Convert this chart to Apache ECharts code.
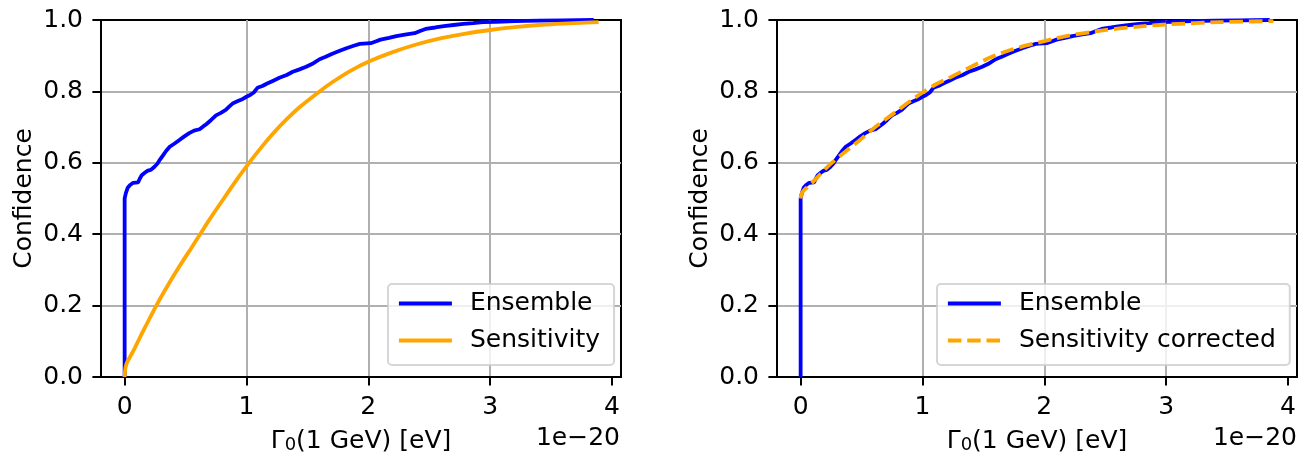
<!DOCTYPE html>
<html>
<head>
<meta charset="utf-8">
<script src="https://cdn.jsdelivr.net/npm/echarts@6/dist/echarts.min.js"></script>
<style>html,body{margin:0;padding:0;background:#fff}#c{width:1309px;height:453px}</style>
</head>
<body>
<div id="c"></div>
<script>
// ---- data (x in units of 1e-20 eV) ----
const ensembleX = [0, 0, 0.01, 0.025, 0.045, 0.07, 0.11, 0.125, 0.14, 0.165, 0.19, 0.215, 0.245, 0.27, 0.29, 0.315, 0.34, 0.37, 0.41, 0.45, 0.49, 0.53, 0.57, 0.615, 0.645, 0.67, 0.71, 0.75, 0.79, 0.83, 0.86, 0.89, 0.93, 0.97, 1.0, 1.03, 1.06, 1.09, 1.13, 1.17, 1.22, 1.27, 1.33, 1.38, 1.43, 1.49, 1.55, 1.6, 1.65, 1.7, 1.76, 1.82, 1.88, 1.93, 2.02, 2.06, 2.1, 2.17, 2.23, 2.3, 2.38, 2.43, 2.47, 2.55, 2.62, 2.7, 2.78, 2.86, 2.94, 3.05, 3.2, 3.4, 3.6, 3.85];
const ensembleY = [0, 0.5, 0.515, 0.53, 0.538, 0.544, 0.545, 0.556, 0.565, 0.572, 0.578, 0.58, 0.589, 0.598, 0.609, 0.621, 0.633, 0.645, 0.654, 0.664, 0.674, 0.683, 0.69, 0.694, 0.702, 0.708, 0.72, 0.733, 0.74, 0.748, 0.758, 0.767, 0.773, 0.779, 0.785, 0.79, 0.797, 0.81, 0.815, 0.822, 0.83, 0.838, 0.846, 0.855, 0.861, 0.869, 0.879, 0.89, 0.897, 0.905, 0.913, 0.921, 0.928, 0.933, 0.935, 0.94, 0.945, 0.95, 0.955, 0.959, 0.963, 0.97, 0.975, 0.979, 0.983, 0.986, 0.989, 0.991, 0.994, 0.995, 0.997, 0.998, 0.999, 1.0];
const sensX = [0, 0.005, 0.015, 0.03, 0.055, 0.08, 0.1, 0.14, 0.19, 0.26, 0.35, 0.45, 0.55, 0.62, 0.7, 0.8, 0.9, 1.0, 1.1, 1.2, 1.3, 1.44, 1.6, 1.71, 1.85, 2.0, 2.2, 2.4, 2.6, 2.8, 3.0, 3.2, 3.4, 3.6, 3.89];
const sensY = [0, 0.022, 0.037, 0.048, 0.063, 0.079, 0.093, 0.121, 0.154, 0.2, 0.254, 0.31, 0.363, 0.4, 0.443, 0.493, 0.543, 0.59, 0.634, 0.675, 0.712, 0.757, 0.8, 0.827, 0.857, 0.883, 0.91, 0.932, 0.949, 0.962, 0.972, 0.98, 0.986, 0.99, 0.994];
const corrX = [0, 0.005, 0.015, 0.03, 0.055, 0.1, 0.16, 0.26, 0.37, 0.48, 0.6, 0.75, 0.88, 1.0, 1.1, 1.22, 1.38, 1.55, 1.74, 2.0, 2.2, 2.48, 2.75, 3.03, 3.44, 3.88];
const corrY = [0.5, 0.51, 0.518, 0.524, 0.532, 0.546, 0.568, 0.601, 0.632, 0.662, 0.697, 0.735, 0.768, 0.797, 0.818, 0.838, 0.866, 0.894, 0.918, 0.941, 0.956, 0.971, 0.981, 0.988, 0.994, 0.997];
const xTicks = [0, 1, 2, 3, 4];
const yTicks = [0, 0.2, 0.4, 0.6, 0.8, 1.0];
const xLabel = 'Γ{s|0}(1 GeV) [eV]';
const yLabel = 'Confidence';
const offsetText = '1e−20';

const FONT = 'DejaVu Sans';
const FS = 25;
const pairs = (xs, ys) => xs.map((x, i) => [x, ys[i]]);

function xAxisFor(i) {
  return {
    type: 'value', gridIndex: i, min: -0.194, max: 4.074,
    name: xLabel, nameLocation: 'middle', nameGap: 52,
    nameTextStyle: {
      fontSize: FS, color: '#000', fontFamily: FONT, lineHeight: 25,
      rich: { s: { fontSize: 18, lineHeight: 12, verticalAlign: 'bottom', color: '#000', fontFamily: FONT } }
    },
    axisLine: { show: true, onZero: false, lineStyle: { color: '#000', width: 2 } },
    axisTick: { show: true, length: 8.6, customValues: xTicks, lineStyle: { color: '#000', width: 2 } },
    axisLabel: { customValues: xTicks, margin: 18, fontSize: FS, color: '#000', fontFamily: FONT },
    splitLine: { show: true, showMinLine: false, showMaxLine: false, lineStyle: { color: '#b0b0b0', width: 2 } }
  };
}
function yAxisFor(i) {
  return {
    type: 'value', gridIndex: i, min: 0, max: 1, interval: 0.2,
    name: yLabel, nameLocation: 'middle', nameGap: 64,
    nameTextStyle: { fontSize: FS, color: '#000', fontFamily: FONT },
    axisLine: { show: true, onZero: false, lineStyle: { color: '#000', width: 2 } },
    axisTick: { show: true, length: 8.6, lineStyle: { color: '#000', width: 2 } },
    axisLabel: { margin: 18, fontSize: FS, color: '#000', fontFamily: FONT, formatter: v => v.toFixed(1) },
    splitLine: { show: true, showMinLine: false, showMaxLine: false, lineStyle: { color: '#b0b0b0', width: 2 } }
  };
}
function legendFor(left, names) {
  return {
    data: names, left: left, top: 284, orient: 'vertical', selectedMode: false,
    itemWidth: 53, itemHeight: 14, itemGap: 12, padding: [7, 14, 12, 9],
    backgroundColor: 'rgba(255,255,255,0.8)', borderColor: 'rgba(204,204,204,0.8)',
    borderWidth: 2, borderRadius: 4,
    itemStyle: { opacity: 0 },
    lineStyle: { width: 3.8 },
    textStyle: { fontSize: FS, color: '#000', fontFamily: FONT, padding: [0, 0, 0, 13] }
  };
}
const BLUE = '#0000ff', ORANGE = '#ffa500';
function lineSeries(name, idx, data, color, dash, smooth) {
  return {
    type: 'line', name: name, xAxisIndex: idx, yAxisIndex: idx, data: data,
    symbol: 'none', showSymbol: false, animation: false,
    smooth: smooth || false,
    lineStyle: { color: color, width: 3.8, type: dash || 'solid' },
    itemStyle: { color: color }
  };
}

const chart = echarts.init(document.getElementById('c'), null, { renderer: 'canvas' });
chart.setOption({
  animation: false,
  backgroundColor: '#fff',
  grid: [
    { left: 101, right: 688, top: 20, bottom: 76, show: true, borderColor: '#000', borderWidth: 2, containLabel: false, outerBoundsMode: 'none' },
    { left: 777, right: 12, top: 20, bottom: 76, show: true, borderColor: '#000', borderWidth: 2, containLabel: false, outerBoundsMode: 'none' }
  ],
  xAxis: [xAxisFor(0), xAxisFor(1)],
  yAxis: [yAxisFor(0), yAxisFor(1)],
  legend: [legendFor(388, ['Ensemble', 'Sensitivity']), legendFor(937, ['Ensemble', 'Sensitivity corrected'])],
  series: [
    lineSeries('Ensemble', 0, pairs(ensembleX, ensembleY), BLUE),
    lineSeries('Sensitivity', 0, pairs(sensX, sensY), ORANGE, null, 0.25),
    lineSeries('Ensemble', 1, pairs(ensembleX, ensembleY), BLUE),
    lineSeries('Sensitivity corrected', 1, pairs(corrX, corrY), ORANGE, [13.5, 5.8], 0.25)
  ],
  graphic: [
    { type: 'text', right: 689, top: 426, style: { text: offsetText, fontSize: FS, fontFamily: FONT, fill: '#000' } },
    { type: 'text', right: 12, top: 426, style: { text: offsetText, fontSize: FS, fontFamily: FONT, fill: '#000' } }
  ]
});
</script>
</body>
</html>
